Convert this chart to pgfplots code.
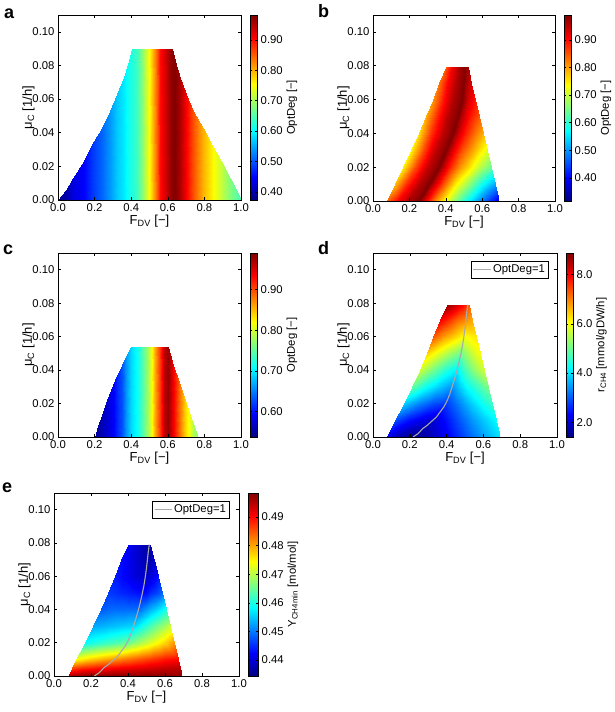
\documentclass[border=0pt]{standalone}
\usepackage{fontspec}
\setmainfont{Liberation Sans}
\usepackage{pgfplots}
\pgfplotsset{compat=1.18}
\definecolor{optgray}{RGB}{170,170,170}
\newcommand{\fs}{\fontsize{11.3}{13}\selectfont}
\newcommand{\fl}{\fontsize{13}{15}\selectfont}
\pgfplotsset{
  panel/.style={
    scale only axis,
    xmin=0, xmax=1, ymin=0, ymax=0.11,
    xtick={0,0.2,0.4,0.6,0.8,1},
    ytick={0,0.02,0.04,0.06,0.08,0.1},
    scaled x ticks=false, scaled y ticks=false,
    xticklabel style={/pgf/number format/.cd, fixed, fixed zerofill, precision=1, assume math mode=true},
    yticklabel style={/pgf/number format/.cd, fixed, fixed zerofill, precision=2, assume math mode=true},
    tick label style={font=\fs},
    label style={font=\fl},
    xlabel={F\textsubscript{DV} [−]},
    ylabel={μ\textsubscript{C} [1/h]},
    ylabel shift=-9pt,
    xlabel shift=-3pt,
    tick align=inside,
    major tick length=3pt,
    axis line style={line width=0.8pt},
    every tick/.style={black, line width=0.5pt},
    axis on top,
    colormap/jet,
    colorbar,
    colorbar shift/.style={xshift=-2pt},
  },
  cbar/.style={
    scale only axis, width=7pt,
    scaled y ticks=false,
    yticklabel style={/pgf/number format/.cd, fixed, fixed zerofill, precision=2, assume math mode=true},
    tick label style={font=\fs},
    label style={font=\fs},
    ylabel shift=-3pt,
    axis line style={line width=0.8pt},
    major tick length=2pt,
  },
}
\begin{document}
\begin{tikzpicture}[font=\fs]
\useasboundingbox (0pt,0pt) rectangle (615pt,712pt);
%%%%%%%%%%%%%%%% a
\begin{axis}[panel, at={(58pt,512pt)}, anchor=south west, width=183pt, height=185pt,
  point meta min=0.373, point meta max=0.982,
  colorbar style={cbar, height=185pt, ytick={0.4,0.5,0.6,0.7,0.8,0.9}, ylabel={OptDeg [−]}}]
\addplot[surf, shader=interp, mesh/cols=31, point meta=explicit] table[meta=c] {
x y c
0.000 0 0.38
0.045 0 0.40
0.084 0 0.43
0.140 0 0.45
0.188 0 0.48
0.240 0 0.51
0.285 0 0.54
0.325 0 0.57
0.360 0 0.59
0.385 0 0.61
0.406 0 0.62
0.430 0 0.64
0.455 0 0.67
0.480 0 0.72
0.500 0 0.75
0.520 0 0.80
0.540 0 0.85
0.560 0 0.90
0.585 0 0.93
0.610 0 0.965
0.621 0 0.975
0.639 0 0.98
0.667 0 0.955
0.700 0 0.91
0.740 0 0.86
0.790 0 0.80
0.840 0 0.76
0.890 0 0.72
0.940 0 0.68
0.970 0 0.66
1.000 0 0.64
0.000 0.000 0.38
0.045 0.006 0.40
0.084 0.013 0.43
0.140 0.023 0.45
0.188 0.033 0.48
0.240 0.043 0.51
0.285 0.053 0.54
0.325 0.063 0.57
0.360 0.073 0.59
0.385 0.081 0.61
0.406 0.0896 0.62
0.430 0.0896 0.64
0.455 0.0896 0.67
0.480 0.0896 0.72
0.500 0.0896 0.75
0.520 0.0896 0.80
0.540 0.0896 0.85
0.560 0.0896 0.90
0.585 0.0896 0.93
0.610 0.0896 0.965
0.621 0.0896 0.975
0.639 0.0827 0.98
0.667 0.0727 0.955
0.700 0.063 0.91
0.740 0.0528 0.86
0.790 0.043 0.80
0.840 0.0329 0.76
0.890 0.023 0.72
0.940 0.013 0.68
0.970 0.006 0.66
1.000 0.000 0.64
};
\end{axis}
%%%%%%%%%%%%%%%% b
\begin{axis}[panel, at={(373pt,511pt)}, anchor=south west, width=182pt, height=186pt,
  point meta min=0.316, point meta max=0.99,
  colorbar style={cbar, height=186pt, ytick={0.4,0.5,0.6,0.7,0.8,0.9}, ylabel={OptDeg [−]}}]
\addplot[surf, shader=interp, mesh/cols=9, point meta=explicit] table[meta=c] {
x y c
0.077 0 0.84
0.135 0 0.908
0.192 0 0.96
0.250 0 0.99
0.338 0 0.819
0.426 0 0.685
0.514 0 0.575
0.602 0 0.472
0.690 0 0.38
0.120 0.01 0.78
0.183 0.01 0.875
0.247 0.01 0.948
0.310 0.01 0.99
0.382 0.01 0.856
0.453 0.01 0.75
0.525 0.01 0.664
0.596 0.01 0.582
0.668 0.01 0.51
0.167 0.02 0.745
0.231 0.02 0.855
0.296 0.02 0.941
0.360 0.02 0.99
0.417 0.02 0.892
0.475 0.02 0.815
0.532 0.02 0.752
0.590 0.02 0.692
0.647 0.02 0.64
0.211 0.03 0.74
0.274 0.03 0.853
0.337 0.03 0.94
0.400 0.03 0.99
0.445 0.03 0.914
0.490 0.03 0.855
0.536 0.03 0.806
0.581 0.03 0.76
0.626 0.03 0.72
0.253 0.04 0.76
0.315 0.04 0.864
0.378 0.04 0.944
0.440 0.04 0.99
0.473 0.04 0.934
0.506 0.04 0.89
0.538 0.04 0.854
0.571 0.04 0.82
0.604 0.04 0.79
0.292 0.05 0.79
0.350 0.05 0.88
0.407 0.05 0.95
0.465 0.05 0.99
0.488 0.05 0.951
0.512 0.05 0.92
0.535 0.05 0.895
0.559 0.05 0.871
0.582 0.05 0.85
0.328 0.06 0.81
0.382 0.06 0.891
0.436 0.06 0.954
0.490 0.06 0.99
0.504 0.06 0.962
0.518 0.06 0.94
0.533 0.06 0.922
0.547 0.06 0.905
0.561 0.06 0.89
0.364 0.07 0.83
0.409 0.07 0.902
0.455 0.07 0.958
0.500 0.07 0.99
0.508 0.07 0.973
0.516 0.07 0.96
0.524 0.07 0.949
0.532 0.07 0.939
0.540 0.07 0.93
0.400 0.079 0.85
0.435 0.079 0.913
0.470 0.079 0.962
0.505 0.079 0.99
0.508 0.079 0.985
0.511 0.079 0.98
0.514 0.079 0.975
0.517 0.079 0.97
0.520 0.079 0.97
};
\end{axis}
%%%%%%%%%%%%%%%% c
\begin{axis}[panel, at={(58pt,275pt)}, anchor=south west, width=183pt, height=184pt,
  point meta min=0.537, point meta max=0.99,
  colorbar style={cbar, height=184pt, ytick={0.6,0.7,0.8,0.9}, ylabel={OptDeg [−]}}]
\addplot[surf, shader=interp, mesh/cols=23, point meta=explicit] table[meta=c] {
x y c
0.200 0 0.55
0.220 0 0.555
0.239 0 0.56
0.270 0 0.575
0.302 0 0.59
0.325 0 0.61
0.348 0 0.63
0.373 0 0.66
0.397 0 0.69
0.430 0 0.71
0.460 0 0.74
0.490 0 0.78
0.510 0 0.81
0.530 0 0.86
0.555 0 0.91
0.580 0 0.96
0.603 0 0.98
0.630 0 0.94
0.667 0 0.88
0.695 0 0.84
0.721 0 0.81
0.745 0 0.78
0.765 0 0.77
0.200 0.000 0.55
0.220 0.0066 0.555
0.239 0.0132 0.56
0.270 0.022 0.575
0.302 0.031 0.59
0.325 0.037 0.61
0.348 0.043 0.63
0.373 0.0485 0.66
0.397 0.0537 0.69
0.430 0.0537 0.71
0.460 0.0537 0.74
0.490 0.0537 0.78
0.510 0.0537 0.81
0.530 0.0537 0.86
0.555 0.0537 0.91
0.580 0.0537 0.96
0.603 0.0537 0.98
0.630 0.043 0.94
0.667 0.031 0.88
0.695 0.022 0.84
0.721 0.0132 0.81
0.745 0.0066 0.78
0.765 0.000 0.77
};
\end{axis}
%%%%%%%%%%%%%%%% d
\begin{axis}[panel, at={(373pt,275pt)}, anchor=south west, width=184pt, height=184pt,
  point meta min=1.40, point meta max=8.88,
  colorbar style={cbar, height=184pt, ytick={2,4,6,8},
    yticklabel style={/pgf/number format/.cd, fixed, fixed zerofill, precision=1},
    ylabel={r\textsubscript{CH4} [mmol/gDW/h]}},
  legend style={at={(0.955,0.955)}, anchor=north east, font=\fs, inner sep=1.5pt, draw=black, line width=0.6pt},
  legend cell align=left]
\addplot[surf, shader=interp, mesh/cols=9, point meta=explicit, forget plot] table[meta=c] {
x y c
0.077 0 2.2
0.124 0 1.8
0.171 0 1.6
0.218 0 1.5
0.312 0 1.8
0.407 0 2.3
0.501 0 2.9
0.596 0 3.5
0.690 0 4.0
0.120 0.01 2.9
0.187 0.01 2.5
0.255 0.01 2.2
0.322 0.01 2.0
0.391 0.01 2.4
0.460 0.01 2.9
0.530 0.01 3.4
0.599 0.01 3.8
0.668 0.01 4.2
0.167 0.02 3.8
0.243 0.02 3.3
0.318 0.02 2.9
0.394 0.02 2.7
0.445 0.02 3.1
0.495 0.02 3.5
0.546 0.02 3.9
0.596 0.02 4.3
0.647 0.02 4.6
0.211 0.03 4.9
0.284 0.03 4.3
0.357 0.03 3.8
0.430 0.03 3.4
0.469 0.03 3.8
0.508 0.03 4.2
0.548 0.03 4.5
0.587 0.03 4.8
0.626 0.03 5.1
0.253 0.04 5.7
0.321 0.04 5.1
0.389 0.04 4.5
0.457 0.04 4.1
0.486 0.04 4.5
0.515 0.04 4.9
0.545 0.04 5.2
0.574 0.04 5.5
0.604 0.04 5.7
0.292 0.05 6.4
0.354 0.05 5.9
0.416 0.05 5.4
0.478 0.05 5.0
0.499 0.05 5.3
0.520 0.05 5.5
0.540 0.05 5.7
0.561 0.05 5.9
0.582 0.05 6.0
0.328 0.06 7.3
0.383 0.06 6.8
0.439 0.06 6.4
0.494 0.06 6.0
0.507 0.06 6.05
0.521 0.06 6.1
0.534 0.06 6.15
0.548 0.06 6.2
0.561 0.06 6.2
0.364 0.07 8.0
0.411 0.07 7.6
0.458 0.07 7.2
0.505 0.07 6.9
0.512 0.07 6.85
0.519 0.07 6.8
0.526 0.07 6.75
0.533 0.07 6.7
0.540 0.07 6.7
0.400 0.079 8.7
0.438 0.079 8.4
0.477 0.079 8.0
0.515 0.079 7.5
0.516 0.079 7.45
0.517 0.079 7.4
0.518 0.079 7.35
0.519 0.079 7.3
0.520 0.079 7.3
};
\addplot[color=optgray, line width=1.1pt] coordinates {
(0.218,0) (0.245,0.002) (0.270,0.005) (0.295,0.007) (0.320,0.0095) (0.345,0.012)
(0.365,0.015) (0.385,0.018) (0.400,0.021) (0.415,0.025) (0.430,0.030) (0.444,0.035)
(0.457,0.040) (0.468,0.045) (0.478,0.050) (0.487,0.055) (0.494,0.060) (0.500,0.065)
(0.505,0.070) (0.510,0.075) (0.515,0.079)};
\addlegendentry{OptDeg=1}
\end{axis}
%%%%%%%%%%%%%%%% e
\begin{axis}[panel, at={(54pt,36pt)}, anchor=south west, width=185pt, height=183pt,
  point meta min=0.4344, point meta max=0.4984,
  colorbar style={cbar, width=10pt, height=183pt, ytick={0.44,0.45,0.46,0.47,0.48,0.49},
    ylabel={Y\textsubscript{CH4min} [mol/mol]}},
  legend style={at={(0.95,0.955)}, anchor=north east, font=\fs, inner sep=1.5pt, draw=black, line width=0.6pt},
  legend cell align=left]
\addplot[surf, shader=interp, mesh/cols=9, point meta=explicit, forget plot] table[meta=c] {
x y c
0.077 0 0.496
0.124 0 0.497
0.171 0 0.498
0.218 0 0.498
0.312 0 0.498
0.407 0 0.498
0.501 0 0.498
0.596 0 0.498
0.690 0 0.497
0.098 0.005 0.486
0.155 0.005 0.488
0.213 0.005 0.489
0.270 0.005 0.490
0.352 0.005 0.491
0.434 0.005 0.492
0.515 0.005 0.493
0.597 0.005 0.494
0.679 0.005 0.495
0.120 0.01 0.474
0.187 0.01 0.477
0.255 0.01 0.479
0.322 0.01 0.481
0.391 0.01 0.483
0.460 0.01 0.485
0.530 0.01 0.487
0.599 0.01 0.489
0.668 0.01 0.490
0.167 0.02 0.459
0.243 0.02 0.461
0.318 0.02 0.463
0.394 0.02 0.465
0.445 0.02 0.468
0.495 0.02 0.471
0.546 0.02 0.474
0.596 0.02 0.477
0.647 0.02 0.481
0.211 0.03 0.453
0.284 0.03 0.454
0.357 0.03 0.455
0.430 0.03 0.456
0.469 0.03 0.459
0.508 0.03 0.462
0.548 0.03 0.465
0.587 0.03 0.468
0.626 0.03 0.471
0.253 0.04 0.448
0.321 0.04 0.449
0.389 0.04 0.449
0.457 0.04 0.449
0.486 0.04 0.451
0.515 0.04 0.453
0.545 0.04 0.455
0.574 0.04 0.457
0.604 0.04 0.460
0.292 0.05 0.446
0.354 0.05 0.445
0.416 0.05 0.444
0.478 0.05 0.443
0.499 0.05 0.443
0.520 0.05 0.445
0.540 0.05 0.446
0.561 0.05 0.447
0.582 0.05 0.449
0.328 0.06 0.444
0.383 0.06 0.442
0.439 0.06 0.440
0.494 0.06 0.439
0.507 0.06 0.439
0.521 0.06 0.440
0.534 0.06 0.441
0.548 0.06 0.442
0.561 0.06 0.443
0.364 0.07 0.443
0.411 0.07 0.441
0.458 0.07 0.439
0.505 0.07 0.437
0.512 0.07 0.437
0.519 0.07 0.437
0.526 0.07 0.438
0.533 0.07 0.439
0.540 0.07 0.440
0.400 0.079 0.442
0.438 0.079 0.440
0.477 0.079 0.438
0.515 0.079 0.437
0.516 0.079 0.437
0.517 0.079 0.437
0.518 0.079 0.437
0.519 0.079 0.437
0.520 0.079 0.437
};
\addplot[color=optgray, line width=1.1pt] coordinates {
(0.218,0) (0.245,0.002) (0.270,0.005) (0.295,0.007) (0.320,0.0095) (0.345,0.012)
(0.365,0.015) (0.385,0.018) (0.400,0.021) (0.415,0.025) (0.430,0.030) (0.444,0.035)
(0.457,0.040) (0.468,0.045) (0.478,0.050) (0.487,0.055) (0.494,0.060) (0.500,0.065)
(0.505,0.070) (0.510,0.075) (0.515,0.079)};
\addlegendentry{OptDeg=1}
\end{axis}
%%%%%%%%%%%%%%%% panel letters
\node[anchor=base west, font=\fontsize{18}{18}\bfseries\selectfont, inner sep=0pt] at (4pt,693pt) {a};
\node[anchor=base west, font=\fontsize{18}{18}\bfseries\selectfont, inner sep=0pt] at (318pt,694pt) {b};
\node[anchor=base west, font=\fontsize{18}{18}\bfseries\selectfont, inner sep=0pt] at (3pt,457pt) {c};
\node[anchor=base west, font=\fontsize{18}{18}\bfseries\selectfont, inner sep=0pt] at (318pt,457pt) {d};
\node[anchor=base west, font=\fontsize{18}{18}\bfseries\selectfont, inner sep=0pt] at (2pt,219pt) {e};
\end{tikzpicture}
\end{document}
